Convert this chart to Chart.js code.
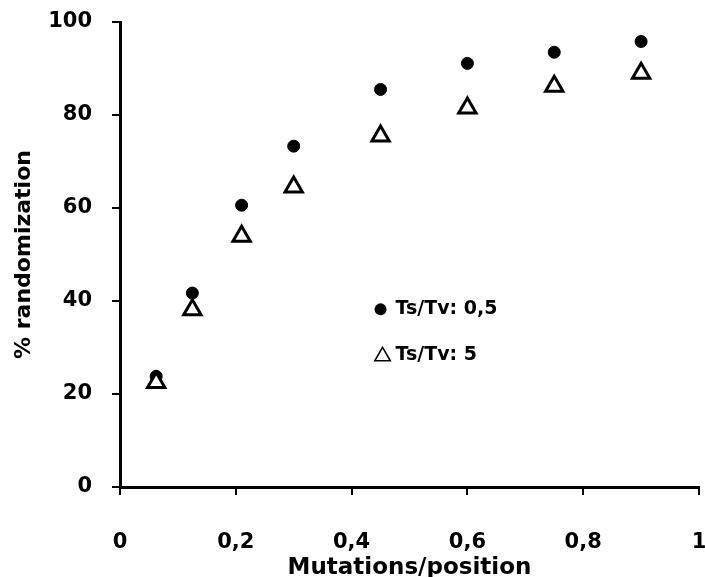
<!DOCTYPE html>
<html>
<head>
<meta charset="utf-8">
<script src="https://cdn.jsdelivr.net/npm/chart.js@4.4.1/dist/chart.umd.min.js"></script>
<style>
  html, body { margin: 0; padding: 0; background: #fff; }
  #wrap { width: 705px; height: 577px; }
</style>
</head>
<body>
<div id="wrap"><canvas id="chart" width="705" height="577"></canvas></div>
<script>
// values
const mutations = [0.0625, 0.125, 0.21, 0.3, 0.45, 0.6, 0.75, 0.9];
const tsTvLow = [23.8, 41.7, 60.6, 73.3, 85.5, 91.1, 93.5, 95.8];
const tsTvHigh = [22.5, 38.1, 53.9, 64.5, 75.5, 81.5, 86.2, 89.0];
const seriesLabels = ["Ts/Tv: 0,5", "Ts/Tv: 5"];
const xTitle = "Mutations/position";
const yTitle = "% randomization";

const font = "'DejaVu Sans', sans-serif";

// legend sits inside the plot, drawn by hand
const insideLegend = {
  id: "insideLegend",
  afterDatasetsDraw(chart) {
    const ctx = chart.ctx;
    const area = chart.chartArea;
    const x = area.left + area.width * 0.45;
    const y1 = area.top + area.height * 0.618;
    const y2 = y1 + 46;
    ctx.save();
    ctx.fillStyle = "#000";
    ctx.strokeStyle = "#000";
    // circle
    ctx.beginPath();
    ctx.arc(x, y1, 6, 0, Math.PI * 2);
    ctx.fill();
    // open triangle
    ctx.fillStyle = "#fff";
    ctx.lineWidth = 1.5;
    Chart.helpers.drawPoint(ctx, { pointStyle: "triangle", radius: 9, borderWidth: 1.5 }, x + 2, y2 + 1);
    ctx.fillStyle = "#000";
    ctx.font = "bold 19px " + font;
    ctx.textBaseline = "middle";
    ctx.textAlign = "left";
    ctx.fillText(seriesLabels[0], x + 15, y1);
    ctx.fillText(seriesLabels[1], x + 15, y2);
    ctx.restore();
  }
};

new Chart(document.getElementById("chart"), {
  type: "scatter",
  data: {
    datasets: [
      {
        label: seriesLabels[0],
        data: mutations.map((m, i) => ({ x: m, y: tsTvLow[i] })),
        pointStyle: "circle",
        pointRadius: 6,
        pointBackgroundColor: "#000",
        pointBorderColor: "#000",
        pointBorderWidth: 1,
        order: 1
      },
      {
        label: seriesLabels[1],
        data: mutations.map((m, i) => ({ x: m, y: tsTvHigh[i] })),
        pointStyle: "triangle",
        pointRadius: 10,
        pointBackgroundColor: "#fff",
        pointBorderColor: "#000",
        pointBorderWidth: 3,
        order: 0
      }
    ]
  },
  options: {
    responsive: false,
    animation: false,
    events: [],
    layout: { autoPadding: false, padding: { top: 22, right: 6, left: 0, bottom: 0 } },
    plugins: {
      legend: { display: false },
      tooltip: { enabled: false }
    },
    scales: {
      x: {
        type: "linear",
        min: 0,
        max: 1,
        afterFit(scale) {
          scale.height = 90;
          scale.paddingLeft = 0;
          scale.paddingRight = 0;
        },
        border: { display: true, color: "#000", width: 3 },
        grid: { drawOnChartArea: false, drawTicks: true, tickLength: 8, color: "#000", lineWidth: 2 },
        ticks: {
          stepSize: 0.2,
          color: "#000",
          padding: 35,
          font: { family: font, size: 21, weight: "bold" },
          callback: v => String(Math.round(v * 10) / 10).replace(".", ",")
        },
        title: {
          display: true,
          text: xTitle,
          color: "#000",
          padding: { top: 0, bottom: -3 },
          font: { family: font, size: 23, weight: "bold", lineHeight: 1 }
        }
      },
      y: {
        min: 0,
        max: 100,
        afterFit(scale) {
          scale.width = 120;
          scale.paddingTop = 0;
          scale.paddingBottom = 0;
        },
        border: { display: true, color: "#000", width: 3 },
        grid: { drawOnChartArea: false, drawTicks: true, tickLength: 8, color: "#000", lineWidth: 2 },
        ticks: {
          stepSize: 20,
          color: "#000",
          padding: 20,
          font: { family: font, size: 21, weight: "bold" }
        },
        title: {
          display: true,
          text: yTitle,
          color: "#000",
          padding: { top: 13, bottom: 0 },
          font: { family: font, size: 22, weight: "bold", lineHeight: 1 }
        }
      }
    }
  },
  plugins: [insideLegend]
});
</script>
</body>
</html>
